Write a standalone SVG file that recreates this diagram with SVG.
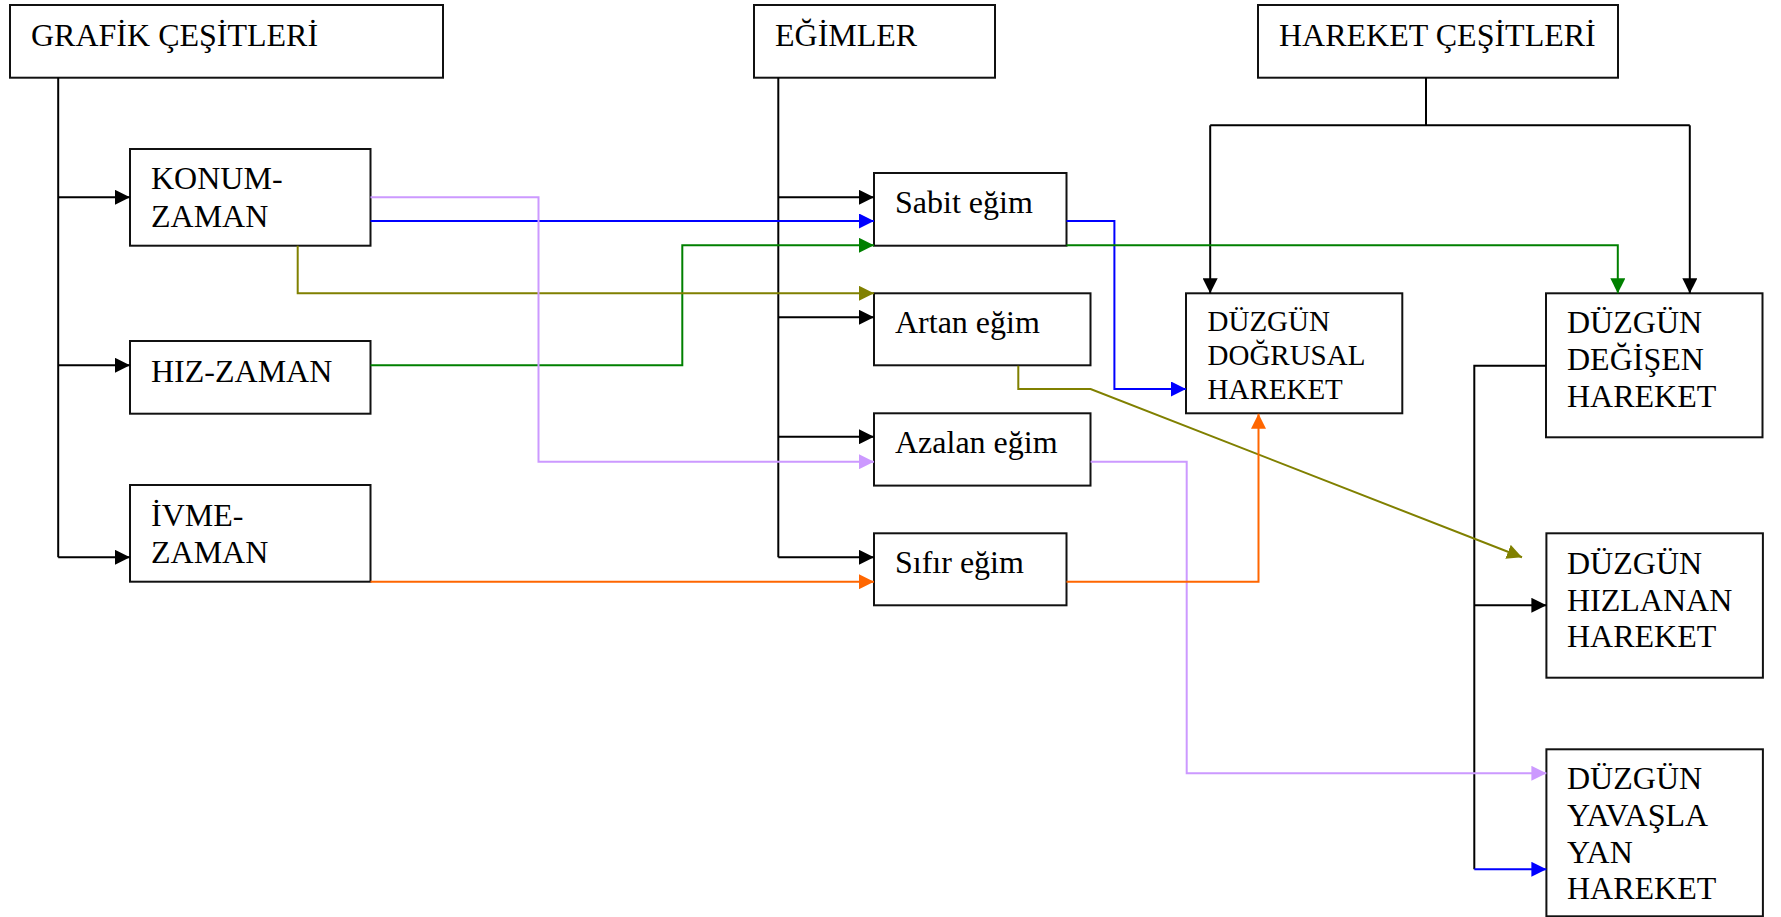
<svg xmlns="http://www.w3.org/2000/svg" width="1781" height="917" viewBox="0 0 1781 917">
<style>
.box{fill:#fff;stroke:#111;stroke-width:2}
.t{font-family:"Liberation Serif","Times New Roman",serif;font-size:32px;fill:#000}
.ts{font-size:29px}
.c{fill:none;stroke-width:2}
.k{stroke:#000}
.b{stroke:#0000ff}
.g{stroke:#008000}
.o{stroke:#808000}
.l{stroke:#cc99ff}
.r{stroke:#ff6600}
</style>
<defs>
<marker id="mk" viewBox="0 0 15 15" refX="15" refY="7.5" markerWidth="15" markerHeight="15" markerUnits="userSpaceOnUse" orient="auto"><path d="M0,0L15,7.5L0,15z" fill="#000"/></marker>
<marker id="mb" viewBox="0 0 15 15" refX="15" refY="7.5" markerWidth="15" markerHeight="15" markerUnits="userSpaceOnUse" orient="auto"><path d="M0,0L15,7.5L0,15z" fill="#0000ff"/></marker>
<marker id="mg" viewBox="0 0 15 15" refX="15" refY="7.5" markerWidth="15" markerHeight="15" markerUnits="userSpaceOnUse" orient="auto"><path d="M0,0L15,7.5L0,15z" fill="#008000"/></marker>
<marker id="mo" viewBox="0 0 15 15" refX="15" refY="7.5" markerWidth="15" markerHeight="15" markerUnits="userSpaceOnUse" orient="auto"><path d="M0,0L15,7.5L0,15z" fill="#808000"/></marker>
<marker id="ml" viewBox="0 0 15 15" refX="15" refY="7.5" markerWidth="15" markerHeight="15" markerUnits="userSpaceOnUse" orient="auto"><path d="M0,0L15,7.5L0,15z" fill="#cc99ff"/></marker>
<marker id="mr" viewBox="0 0 15 15" refX="15" refY="7.5" markerWidth="15" markerHeight="15" markerUnits="userSpaceOnUse" orient="auto"><path d="M0,0L15,7.5L0,15z" fill="#ff6600"/></marker>
</defs>
<rect width="1781" height="917" fill="#fff"/>
<g id="grafik"><rect class="box" x="10" y="5" width="433" height="72.7"/><text class="t" x="31" y="46">GRAFİK ÇEŞİTLERİ</text></g>
<g id="egimler"><rect class="box" x="754" y="5" width="241" height="72.7"/><text class="t" x="775" y="46">EĞİMLER</text></g>
<g id="hareket"><rect class="box" x="1258" y="5" width="360" height="72.7"/><text class="t" x="1279" y="46">HAREKET ÇEŞİTLERİ</text></g>
<g id="konum"><rect class="box" x="130" y="149" width="240.5" height="96.7"/><text class="t" x="151" y="189">KONUM-</text><text class="t" x="151" y="227">ZAMAN</text></g>
<g id="hiz"><rect class="box" x="130" y="341" width="240.5" height="72.7"/><text class="t" x="151" y="382">HIZ-ZAMAN</text></g>
<g id="ivme"><rect class="box" x="130" y="485" width="240.5" height="96.7"/><text class="t" x="151" y="526">İVME-</text><text class="t" x="151" y="563.3">ZAMAN</text></g>
<g id="sabit"><rect class="box" x="874" y="173" width="192.5" height="72.7"/><text class="t" x="895" y="213">Sabit eğim</text></g>
<g id="artan"><rect class="box" x="874" y="293.3" width="216.5" height="72"/><text class="t" x="895" y="333">Artan eğim</text></g>
<g id="azalan"><rect class="box" x="874" y="413.3" width="216.5" height="72.3"/><text class="t" x="895" y="453">Azalan eğim</text></g>
<g id="sifir"><rect class="box" x="874" y="533.3" width="192.5" height="72"/><text class="t" x="895" y="573">Sıfır eğim</text></g>
<g id="dogrusal"><rect class="box" x="1186" y="293.3" width="216.3" height="120"/><text class="t ts" x="1207.5" y="331">DÜZGÜN</text><text class="t ts" x="1207.5" y="365">DOĞRUSAL</text><text class="t ts" x="1207.5" y="399">HAREKET</text></g>
<g id="degisen"><rect class="box" x="1546" y="293.3" width="216.5" height="144"/><text class="t" x="1567" y="332.7">DÜZGÜN</text><text class="t" x="1567" y="370">DEĞİŞEN</text><text class="t" x="1567" y="407.3">HAREKET</text></g>
<g id="hizlanan"><rect class="box" x="1546.4" y="533.3" width="216.5" height="144.4"/><text class="t" x="1567" y="574">DÜZGÜN</text><text class="t" x="1567" y="610.7">HIZLANAN</text><text class="t" x="1567" y="647.3">HAREKET</text></g>
<g id="yavasla"><rect class="box" x="1546.4" y="749.3" width="216.5" height="167"/><text class="t" x="1567" y="789.3">DÜZGÜN</text><text class="t" x="1567" y="826">YAVAŞLA</text><text class="t" x="1567" y="862.7">YAN</text><text class="t" x="1567" y="899.3">HAREKET</text></g>
<g id="connectors">
<path class="c k" d="M58.2,77.7V557.3"/>
<path class="c k" d="M58.2,197.3H130" marker-end="url(#mk)"/>
<path class="c k" d="M58.2,365.3H130" marker-end="url(#mk)"/>
<path class="c k" d="M58.2,557.3H130" marker-end="url(#mk)"/>
<path class="c k" d="M778.3,77.7V557.3"/>
<path class="c k" d="M778.3,197.3H874" marker-end="url(#mk)"/>
<path class="c k" d="M778.3,317.3H874" marker-end="url(#mk)"/>
<path class="c k" d="M778.3,436.7H874" marker-end="url(#mk)"/>
<path class="c k" d="M778.3,557.3H874" marker-end="url(#mk)"/>
<path class="c k" d="M1426,77.7V125.3M1210.2,125.3H1689.8"/>
<path class="c k" d="M1210.2,125.3V293.3" marker-end="url(#mk)"/>
<path class="c k" d="M1689.8,125.3V293.3" marker-end="url(#mk)"/>
<path class="c k" d="M1546,365.7H1474.3V869.3"/>
<path class="c k" d="M1474.3,605.3H1546.4" marker-end="url(#mk)"/>
<path class="c b" d="M370.5,221H874" marker-end="url(#mb)"/>
<path class="c b" d="M1066.5,221H1114.4V389H1186" marker-end="url(#mb)"/>
<path class="c b" d="M1474.3,869.3H1546.4" marker-end="url(#mb)"/>
<path class="c g" d="M370.5,365.3H682.3V245.3H874" marker-end="url(#mg)"/>
<path class="c g" d="M1066.5,245.3H1617.8V293.3" marker-end="url(#mg)"/>
<path class="c o" d="M297.7,245.7V293.3H874" marker-end="url(#mo)"/>
<path class="c o" d="M1018.3,365.7V389H1090.6L1522,557.3" marker-end="url(#mo)"/>
<path class="c l" d="M370.5,197.3H538.5V461.7H874" marker-end="url(#ml)"/>
<path class="c l" d="M1090.6,461.7H1186.7V773.3H1546.4" marker-end="url(#ml)"/>
<path class="c r" d="M370.5,581.7H874" marker-end="url(#mr)"/>
<path class="c r" d="M1066.5,581.7H1258.5V413.7" marker-end="url(#mr)"/>
</g>
</svg>
